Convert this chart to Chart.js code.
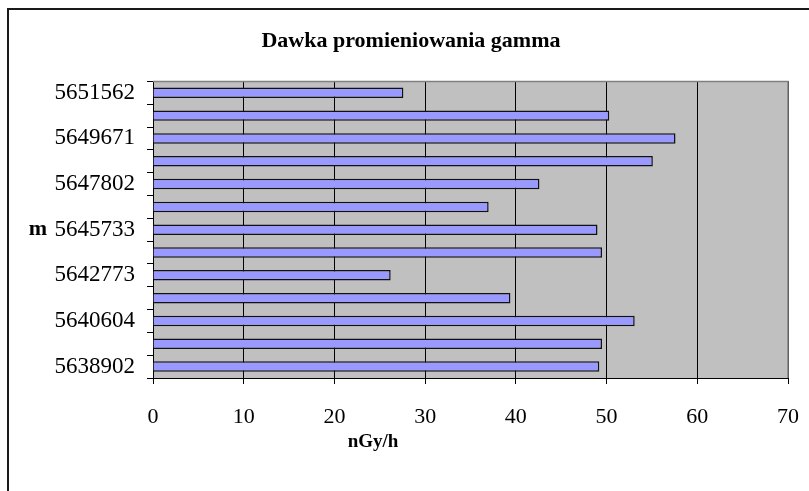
<!DOCTYPE html>
<html>
<head>
<meta charset="utf-8">
<script src="https://cdn.jsdelivr.net/npm/chart.js@4"></script>
<style>
  body { margin: 0; background: #fff; }
  canvas { display: block; }
</style>
</head>
<body>
<canvas id="chart" width="809" height="491"></canvas>
<script>
// category labels, top to bottom (Excel only printed every other one)
var stations = ["5651562", "", "5649671", "", "5647802", "", "5645733", "", "5642773", "", "5640604", "", "5638902"];
// gamma dose rate, nGy/h
var dose = [27.6, 50.3, 57.6, 55.1, 42.6, 37.0, 49.0, 49.5, 26.2, 39.4, 53.1, 49.5, 49.2];
var doseMin = 0;
var doseMax = 70;
var doseStep = 10;

var serif = "'Liberation Serif', 'Times New Roman', serif";

// grey plot area, outer frame, and the two axis captions placed the Excel way
var excelLook = {
	id: "excelLook",
	beforeDraw: function(chart) {
		var c = chart.ctx, a = chart.chartArea;
		c.save();
		c.fillStyle = "#c0c0c0";
		c.fillRect(a.left, a.top, a.right - a.left, a.bottom - a.top);
		c.strokeStyle = "#1a1a1a";
		c.lineWidth = 2;
		c.beginPath();
		c.moveTo(8, chart.height);
		c.lineTo(8, 9);
		c.lineTo(chart.width, 9);
		c.stroke();
		c.restore();
	},
	beforeDatasetsDraw: function(chart) {
		var c = chart.ctx, a = chart.chartArea;
		c.save();
		c.strokeStyle = "#808080";
		c.lineWidth = 1.5;
		c.beginPath();
		c.moveTo(a.left, a.top);
		c.lineTo(a.right, a.top);
		c.lineTo(a.right, a.bottom);
		c.stroke();
		c.restore();
	},
	afterDraw: function(chart) {
		var c = chart.ctx;
		var y = chart.scales.y.getPixelForValue(6);
		c.save();
		c.fillStyle = "#000";
		c.textAlign = "center";
		c.textBaseline = "middle";
		c.font = "bold 22px " + serif;
		c.fillText("m", 38, y);
		c.font = "bold 19px " + serif;
		c.fillText("nGy/h", 373, 442);
		c.restore();
	}
};

new Chart(document.getElementById("chart"), {
	type: "bar",
	data: {
		labels: stations,
		datasets: [{
			data: dose,
			backgroundColor: "#9999ff",
			borderColor: "#111",
			borderWidth: 1.5,
			barPercentage: 0.46,
			categoryPercentage: 1
		}]
	},
	options: {
		indexAxis: "y",
		responsive: false,
		animation: false,
		layout: { padding: { left: 13, top: 0, right: 0, bottom: 0 } },
		plugins: {
			legend: { display: false },
			tooltip: { enabled: false },
			title: {
				display: true,
				text: "Dawka promieniowania gamma",
				color: "#000",
				font: { family: serif, size: 22, weight: "bold" },
				padding: { top: 28, bottom: 27 }
			}
		},
		scales: {
			x: {
				min: doseMin,
				max: doseMax,
				ticks: {
					stepSize: doseStep,
					color: "#000",
					padding: 20,
					font: { family: serif, size: 22 }
				},
				grid: {
					color: "#000",
					lineWidth: 1,
					tickLength: 6
				},
				border: { color: "#000", width: 1 },
				afterFit: function(s) {
					s.height = 113;
					s.paddingRight = 21;
				}
			},
			y: {
				ticks: {
					autoSkip: false,
					color: "#000",
					padding: 12,
					font: { family: serif, size: 23 },
					callback: function(v, i) { return stations[i]; }
				},
				grid: {
					drawOnChartArea: false,
					color: "#000",
					tickLength: 6
				},
				border: { color: "#000", width: 1 },
				afterFit: function(s) { s.width = 140; }
			}
		}
	},
	plugins: [excelLook]
});
</script>
</body>
</html>
